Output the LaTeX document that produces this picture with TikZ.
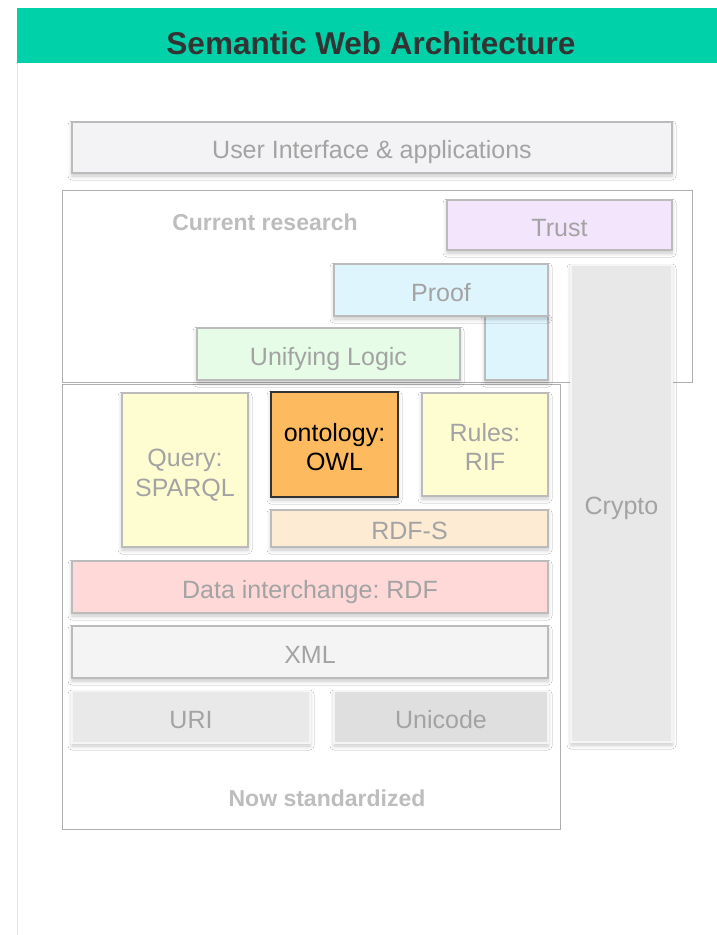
\documentclass[tikz,border=0pt]{standalone}
\usepackage{fontspec}
\setmainfont{Liberation Sans}
\usetikzlibrary{shadows.blur}
\frenchspacing
\definecolor{hdr}{HTML}{00D1A9}
\definecolor{hdrtext}{HTML}{333333}
\definecolor{lbl}{HTML}{A3A3A3}
\definecolor{frlbl}{HTML}{BDBDBD}
\definecolor{bord}{HTML}{BBBBBB}
\definecolor{frame}{HTML}{AFAFAF}
\definecolor{cUI}{HTML}{F3F3F5}
\definecolor{cTrust}{HTML}{F3E5FC}
\definecolor{cProof}{HTML}{DFF5FD}
\definecolor{cLogic}{HTML}{E6FCE6}
\definecolor{cCrypto}{HTML}{E8E8E8}
\definecolor{cYel}{HTML}{FEFDD1}
\definecolor{cOWL}{HTML}{FDBA5F}
\definecolor{cRDFS}{HTML}{FDEBD4}
\definecolor{cRDF}{HTML}{FFD8D8}
\definecolor{cXML}{HTML}{F4F4F4}
\definecolor{cURI}{HTML}{E9E9E9}
\definecolor{cUni}{HTML}{DFDFDF}
\newcommand\lyrtext[1]{\raisebox{-5.5pt}[\height][\depth]{\begin{tabular}{@{}c@{}}#1\end{tabular}}}
\tikzset{
  layer/.style={draw=bord, line width=1.3pt, inner sep=0pt, text=lbl,
    font=\fontsize{25}{29.5}\selectfont\frenchspacing,
    blur shadow={shadow xshift=0pt, shadow yshift=-3pt, shadow blur radius=4pt, shadow opacity=22, shadow blur steps=6}},
  softlayer/.style={layer, draw=white!85!bord},
  framebox/.style={draw=frame, line width=1.3pt, fill=none, inner sep=0pt},
  framelabel/.style={text=frlbl, font=\bfseries\fontsize{23}{26}\selectfont},
}
\begin{document}
\begin{tikzpicture}[x=1pt,y=-1pt]
\useasboundingbox (0,0) rectangle (717,935);
% page
\fill[white] (0,0) rectangle (717,935);
\draw[draw=black!10, line width=1pt] (17.5,63) -- (17.5,935);
\node[fill=hdr, minimum width=700, minimum height=55, inner sep=0pt, anchor=north west] (header) at (17,8) {};
\node[text=hdrtext, font=\bfseries\fontsize{31.5}{36}\selectfont, inner sep=0pt] (title) at (371,43.5) {Semantic Web Architecture};
% frames
\node[framebox, minimum width=630, minimum height=192, anchor=north west] (research) at (62,190) {};
\node[framebox, minimum width=498, minimum height=445, anchor=north west] (standard) at (62,384) {};
\node[framelabel] (researchlbl) at (265,222) {Current research};
\node[framelabel] (standardlbl) at (327,798) {Now standardized};
% layers
\node[layer, fill=cUI, minimum width=600, minimum height=51] (ui) at (372,147.5) {\lyrtext{User Interface \& applications}};
\node[layer, fill=cTrust, minimum width=225, minimum height=50] (trust) at (559.5,225) {\lyrtext{Trust}};
\node[softlayer, fill=cCrypto, minimum width=101, minimum height=477] (crypto) at (621.5,503.5) {\lyrtext{Crypto}};
\node[layer, fill=cProof, minimum width=63, minimum height=64] (proofleg) at (516.5,348) {};
\node[layer, fill=cProof, minimum width=214, minimum height=52] (proof) at (441,290) {\lyrtext{Proof}};
\node[layer, fill=cLogic, minimum width=263, minimum height=52] (logic) at (328.5,354) {\lyrtext{Unifying Logic}};
\node[layer, fill=cYel, minimum width=126, minimum height=154] (query) at (185,470) {\lyrtext{Query:\\SPARQL}};
\node[layer, fill=cOWL, draw=black!80, text=black, minimum width=127, minimum height=105] (owl) at (334.5,444.5) {\lyrtext{ontology:\\OWL}};
\node[layer, fill=cYel, minimum width=126, minimum height=103] (rules) at (485,444.5) {\lyrtext{Rules:\\RIF}};
\node[layer, fill=cRDFS, minimum width=277, minimum height=37] (rdfs) at (409.5,528.5) {\lyrtext{RDF-S}};
\node[layer, fill=cRDF, minimum width=476, minimum height=52] (rdf) at (310,587) {\lyrtext{Data interchange: RDF}};
\node[layer, fill=cXML, minimum width=476, minimum height=52] (xml) at (310,652) {\lyrtext{XML}};
\node[softlayer, fill=cURI, minimum width=238, minimum height=52] (uri) at (191,717) {\lyrtext{URI}};
\node[softlayer, fill=cUni, minimum width=214, minimum height=52] (unicode) at (441,717) {\lyrtext{Unicode}};
\end{tikzpicture}
\end{document}
